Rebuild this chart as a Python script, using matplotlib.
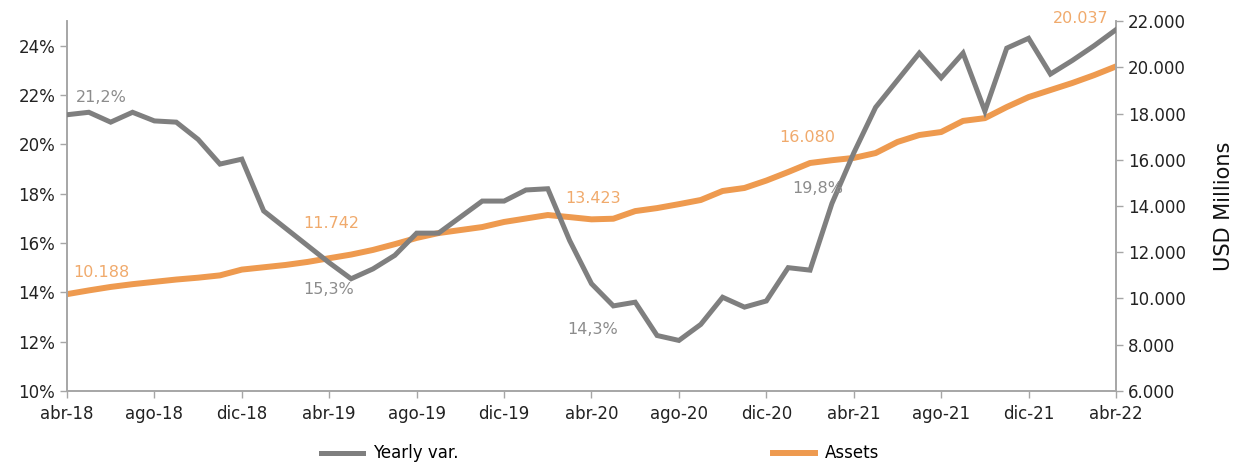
import matplotlib
matplotlib.use("Agg")
import matplotlib.pyplot as plt

months = ["abr-18", "may-18", "jun-18", "jul-18", "ago-18", "sep-18", "oct-18", "nov-18", "dic-18",
          "ene-19", "feb-19", "mar-19", "abr-19", "may-19", "jun-19", "jul-19", "ago-19", "sep-19",
          "oct-19", "nov-19", "dic-19", "ene-20", "feb-20", "mar-20", "abr-20", "may-20", "jun-20",
          "jul-20", "ago-20", "sep-20", "oct-20", "nov-20", "dic-20", "ene-21", "feb-21", "mar-21",
          "abr-21", "may-21", "jun-21", "jul-21", "ago-21", "sep-21", "oct-21", "nov-21", "dic-21",
          "ene-22", "feb-22", "mar-22", "abr-22"]

yearly_var = [21.2, 21.3, 20.9, 21.3, 20.95, 20.9, 20.2, 19.2, 19.4, 17.3,
              16.6, 15.9, 15.2, 14.55, 14.95, 15.5, 16.4, 16.4, 17.05, 17.7,
              17.7, 18.15, 18.2, 16.1, 14.35, 13.45, 13.6, 12.25, 12.05, 12.7,
              13.8, 13.4, 13.65, 15.0, 14.9, 17.6, 19.65, 21.5, 22.6, 23.7,
              22.7, 23.7, 21.35, 23.9, 24.3, 22.85, 23.4, 24.0, 24.65]

assets = [10188, 10350, 10500, 10620, 10720, 10820, 10900, 11000, 11250, 11350,
          11450, 11580, 11742, 11900, 12100, 12350, 12620, 12830, 12960, 13090,
          13310, 13460, 13610, 13520, 13423, 13450, 13780, 13910, 14080, 14260,
          14650, 14780, 15100, 15470, 15860, 15980, 16080, 16290, 16770, 17070,
          17200, 17680, 17800, 18280, 18710, 19015, 19320, 19660, 20037]

tick_idx = list(range(0, len(months), 4))

gray = "#7f7f7f"
orange = "#ee9a4f"
spine = "#a6a6a6"
plt.rcParams['font.family'] = ['DejaVu Sans']

fig = plt.figure(figsize=(12.45, 4.62), dpi=100)
ax = fig.add_axes([0.0538, 0.1537, 0.8426, 0.8008])
ax2 = ax.twinx()

x = list(range(len(months)))
l1, = ax.plot(x, yearly_var, color=gray, lw=3.6, solid_joinstyle="miter", zorder=3)
l2, = ax2.plot(x, assets, color=orange, lw=4.3, zorder=2)
ax.set_zorder(ax2.get_zorder() + 1)
ax.patch.set_visible(False)

ax.set_xlim(0, 48)
ax.set_ylim(10, 25)
ax.set_yticks(range(10, 25, 2))
ax.set_yticklabels([f"{v}%" for v in range(10, 25, 2)])
ax2.set_ylim(6000, 22000)
ax2.set_yticks(range(6000, 22001, 2000))
ax2.set_yticklabels([f"{v // 1000}.000" for v in range(6000, 22001, 2000)])
ax.set_xticks(tick_idx)
ax.set_xticklabels([months[i] for i in tick_idx])

for a in (ax, ax2):
    a.spines["top"].set_visible(False)
    for s in ("left", "right", "bottom"):
        a.spines[s].set_color(spine)
        a.spines[s].set_linewidth(1.2)
    a.tick_params(colors=spine, labelcolor="#222222", labelsize=12, length=5, width=1)
ax.tick_params(axis="x", pad=5)
ax2.set_ylabel("USD Millions", fontsize=15, labelpad=20, color="#111111")

lab_gray = "#8c8c8c"
lab_orange = "#f0aa6c"
fs = 11.5
ax.text(0.4, 21.9, "21,2%", color=lab_gray, fontsize=fs, va="center")
ax.text(10.8, 14.1, "15,3%", color=lab_gray, fontsize=fs, va="center")
ax.text(22.9, 12.5, "14,3%", color=lab_gray, fontsize=fs, va="center")
ax.text(33.2, 18.2, "19,8%", color=lab_gray, fontsize=fs, va="center")
ax2.text(0.3, 11110, "10.188", color=lab_orange, fontsize=fs, va="center")
ax2.text(10.8, 13260, "11.742", color=lab_orange, fontsize=fs, va="center")
ax2.text(22.8, 14340, "13.423", color=lab_orange, fontsize=fs, va="center")
ax2.text(32.6, 16950, "16.080", color=lab_orange, fontsize=fs, va="center")
ax2.text(45.1, 22100, "20.037", color=lab_orange, fontsize=fs, va="center")

fig.legend([l1, l2], ["Yearly var.", "Assets"], loc="lower center",
           bbox_to_anchor=(0.482, -0.026), ncol=2, frameon=False,
           fontsize=12, handlelength=2.5, handletextpad=0.6,
           columnspacing=18.9, borderpad=0.2)

fig.savefig("out.png", dpi=100)
